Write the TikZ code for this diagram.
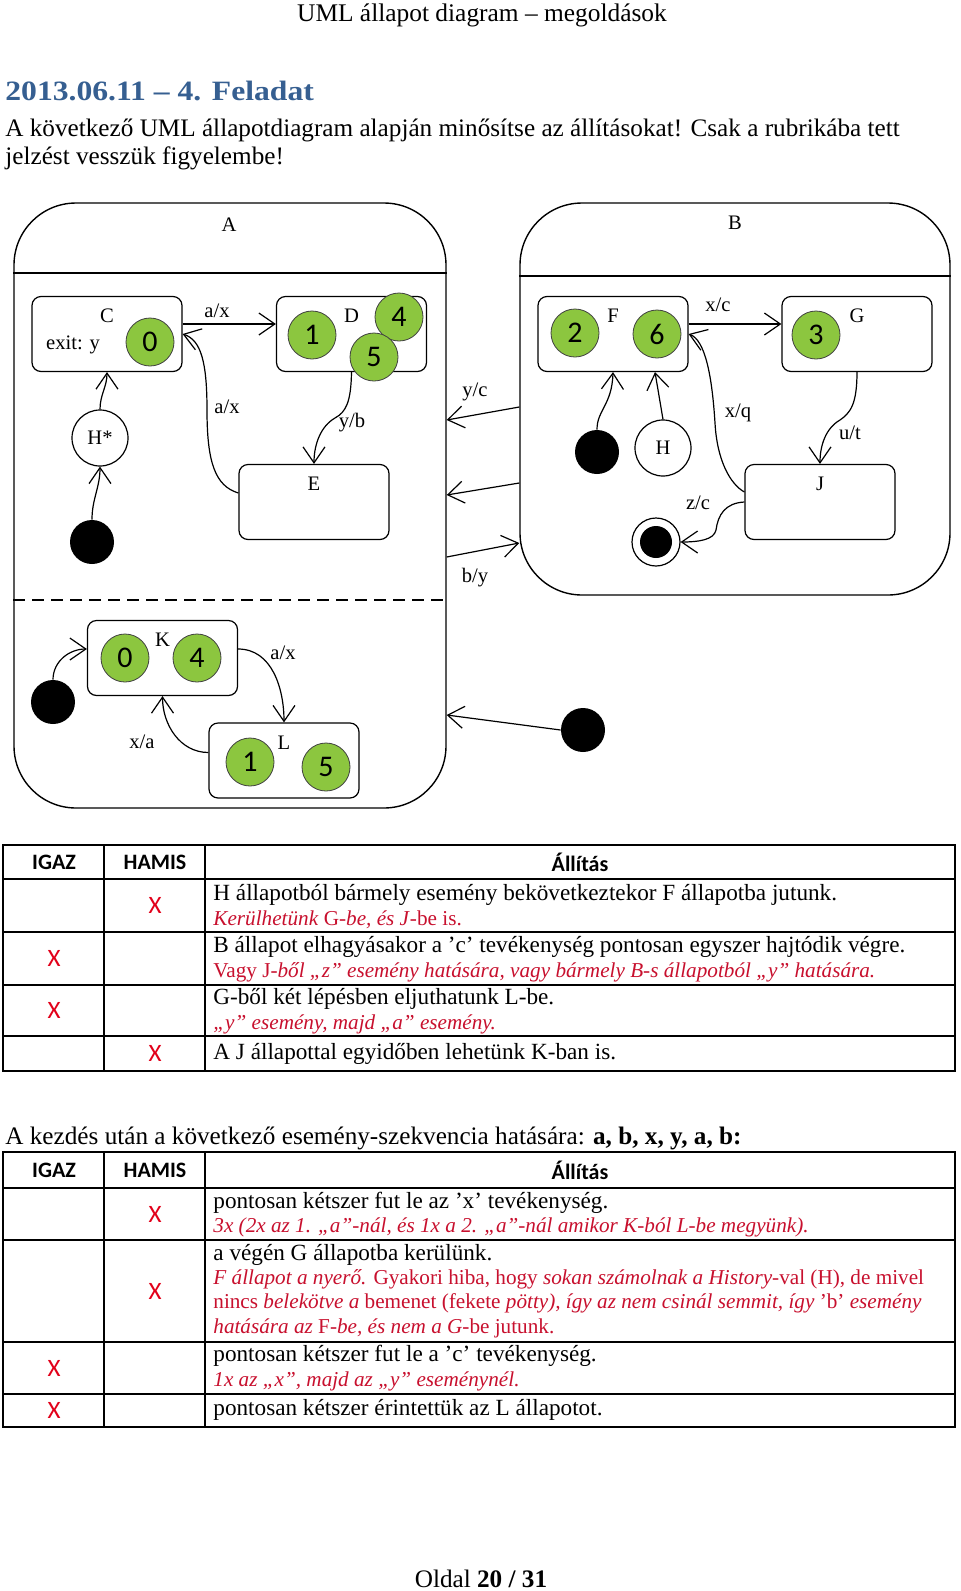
\documentclass[tikz,border=0pt]{standalone}
\usepackage{fontspec}
\usepackage{graphicx}
\setmainfont{Liberation Serif}
\newfontfamily\calibri{Carlito}
\usetikzlibrary{positioning,arrows.meta}
\definecolor{tokengreen}{HTML}{8CC63F}
\definecolor{headblue}{HTML}{365F91}
\definecolor{notered}{HTML}{C8102E}
\definecolor{markred}{HTML}{E2001A}
\newcommand{\diagfont}{\fontsize{10.3}{12}\selectfont}
\newcommand{\bodyfont}{\fontsize{12.6}{15}\selectfont}
\newcommand{\cellfont}{\fontsize{11.6}{14}\selectfont}
\newcommand{\notefont}{\fontsize{10.6}{13}\selectfont}

\tikzset{
  state/.style={draw, rounded corners=4.5pt, minimum width=75pt, minimum height=37.5pt, line width=0.6pt},
  composite/.style={draw, rounded corners=31pt, line width=0.7pt},
  token/.style={circle, draw=black!75, line width=0.4pt, fill=tokengreen, minimum size=24pt, inner sep=0pt, font=\calibri\fontsize{15}{15}\selectfont},
  startdot/.style={circle, fill=black, minimum size=22pt, inner sep=0pt},
  finalstate/.style={circle, draw, line width=0.6pt, minimum size=24pt, inner sep=0pt,
    path picture={\fill (path picture bounding box.center) circle (8pt);}},
  histnode/.style={circle, draw, line width=0.6pt, minimum size=28pt, inner sep=0pt, font=\diagfont},
  trans/.style={-{Straight Barb[length=8pt,width=11pt,line width=0.6pt]}, line width=0.6pt},
  lbl/.style={font=\diagfont, inner sep=1pt},
  body/.style={anchor=base west, inner sep=0pt, font=\bodyfont},
  cell/.style={anchor=base west, inner sep=0pt, font=\cellfont},
  note/.style={anchor=base west, inner sep=0pt, font=\notefont, text=notered},
  xmark/.style={font=\calibri\fontsize{12.5}{12.5}\selectfont, text=markred, inner sep=0pt},
  colhead/.style={font=\calibri\bfseries\fontsize{11}{11}\selectfont, inner sep=0pt},
  rule/.style={line width=0.8pt},
}

\begin{document}
\begin{tikzpicture}[x=0.5pt, y=-0.5pt]
  \useasboundingbox (0,0) rectangle (960,1591);
  \fill[white] (0,0) rectangle (960,1591);

  % page head and task text
  \node[anchor=base, inner sep=0pt, font=\fontsize{12.7}{15}\selectfont] (pagehead) at (482,21) {UML állapot diagram – megoldások};
  \node[anchor=base west, inner sep=0pt, text=headblue, font=\bfseries\fontsize{14}{17}\selectfont] (task) at (5,100) {\scalebox{1.13}[1]{2013.06.11 – 4. Feladat}};
  \node[body] (intro1) at (5,136) {A következő UML állapotdiagram alapján minősítse az állításokat! Csak a rubrikába tett};
  \node[body] (intro2) at (5,164) {jelzést vesszük figyelembe!};

  % composite states
  \node[composite, minimum width=216pt, minimum height=302.5pt] (A) at (230,505.5) {};
  \node[composite, minimum width=215pt, minimum height=196pt] (B) at (735,399) {};
  \draw[line width=0.6pt] (A.west |- 0,273) -- (A.east |- 0,273);
  \draw[line width=0.6pt] (B.west |- 0,276) -- (B.east |- 0,276);
  \draw[line width=0.6pt, dash pattern=on 6pt off 3.5pt] (A.west |- 0,600) -- (A.east |- 0,600);
  \node[lbl] (Aname) at (229,225) {A};
  \node[lbl] (Bname) at (735,223) {B};

  % inside A, upper region
  \node[state] (C) at (107,334) {};
  \node[lbl, below=5.5pt of C.north] (Cname) {C};
  \node[lbl] (Cexit) at (73,345) {exit: y};
  \node[state] (D) at (351.5,334) {};
  \node[lbl, below=5.5pt of D.north] (Dname) {D};
  \node[state] (E) at (314,502) {};
  \node[lbl, below=5.5pt of E.north] (Ename) {E};
  \node[histnode] (Hstar) at (100,438) {H*};
  \node[startdot] (dotA) at (92,542) {};

  \draw[trans] (dotA.north) to[out=90,in=-90] (Hstar.south);
  \draw[trans] (Hstar.north) to[out=90,in=-90] (C.south);
  \draw[trans] ([yshift=5pt]C.east) -- ([yshift=5pt]D.west);
  \node[lbl] (lCD) at (217,311) {a/x};
  \draw[trans] ([yshift=4.5pt]E.west) .. controls (215,486) and (207,462) .. (207,410)
    .. controls (207,362) and (201,340) .. (C.east);
  \node[lbl] (lEC) at (227,407) {a/x};
  \draw[trans] (D.south) .. controls (351,402) and (346,412) .. (335,418)
    .. controls (321,426) and (314,444) .. (E.north);
  \node[lbl] (lDE) at (352,423) {y/b};

  \node[token] (c0) at (150,342) {0};
  \node[token] (d1) at (312,335) {1};
  \node[token] (d4) at (399,317) {4};
  \node[token] (d5) at (374,357) {5};

  % inside B
  \node[state] (F) at (613,334) {};
  \node[lbl, below=5.5pt of F.north] (Fname) {F};
  \node[state] (G) at (857,334) {};
  \node[lbl, below=5.5pt of G.north] (Gname) {G};
  \node[state] (J) at (820,502) {};
  \node[lbl, below=5.5pt of J.north] (Jname) {J};
  \node[startdot] (dotB) at (597,452) {};
  \node[histnode] (Hist) at (663,448) {H};
  \node[finalstate] (fin) at (656,542) {};

  \draw[trans] ([yshift=5pt]F.east) -- ([yshift=5pt]G.west);
  \node[lbl] (lFG) at (718,305) {x/c};
  \draw[trans] ([yshift=5pt]J.west) .. controls (730,484) and (717,460) .. (715,423)
    .. controls (712,375) and (705,340) .. (F.east);
  \node[lbl] (lJF) at (738,413) {x/q};
  \draw[trans] (G.south) .. controls (857,405) and (850,413) .. (840,420)
    .. controls (826,428) and (820,445) .. (J.north);
  \node[lbl] (lGJ) at (850,433) {u/t};
  \draw[trans] (J.west) .. controls (725,503) and (718,515) .. (716,530)
    .. controls (714,540) and (698,542) .. (fin.east);
  \node[lbl] (lJfin) at (698,503) {z/c};
  \draw[trans] (dotB.north) .. controls (597,410) and (612,405) .. (F.south);
  \draw[trans] (Hist.north) -- ([xshift=21pt]F.south);

  \node[token] (f2) at (575,333) {2};
  \node[token] (f6) at (657,334) {6};
  \node[token] (g3) at (816,335) {3};

  % between A and B
  \draw[trans] (B.west |- 0,407) -- (A.east |- 0,420);
  \node[lbl] (lyc) at (475,392) {y/c};
  \draw[trans] (B.west |- 0,483) -- (A.east |- 0,495);
  \draw[trans] (A.east |- 0,557) -- (B.west |- 0,543);
  \node[lbl] (lby) at (475,578) {b/y};

  % inside A, lower region
  \node[state] (K) at (162.5,658) {};
  \node[lbl, below=5.5pt of K.north] (Kname) {K};
  \node[state] (L) at (284,760.5) {};
  \node[lbl, below=5.5pt of L.north] (Lname) {L};
  \node[startdot] (dotK) at (53,702) {};
  \node[startdot] (dotOut) at (583,730) {};

  \draw[trans] (dotK.north) to[out=90,in=180] ([yshift=4.5pt]K.west);
  \draw[trans] ([yshift=4.5pt]K.east) to[out=0,in=90] (L.north);
  \node[lbl] (lKL) at (283,653) {a/x};
  \draw[trans] ([yshift=4pt]L.west) to[out=180,in=-90] (K.south);
  \node[lbl] (lLK) at (142,742) {x/a};
  \draw[trans] (dotOut.west) -- (A.east |- 0,715);

  \node[token] (k0) at (125,658) {0};
  \node[token] (k4) at (197,658) {4};
  \node[token] (l1) at (250,762) {1};
  \node[token] (l5) at (326,767) {5};

  % first table
  \draw[rule] (3,845) rectangle (955,1071);
  \foreach \y in {879,932,985,1036} \draw[rule] (3,\y) -- (955,\y);
  \foreach \x in {104,205} \draw[rule] (\x,845) -- (\x,1071);
  \node[colhead] (t1igaz) at (54,862) {IGAZ};
  \node[colhead] (t1hamis) at (155,862) {HAMIS};
  \node[colhead] (t1allit) at (580,862) {Állítás};

  \node[cell] (t1s1) at (213,900) {H állapotból bármely esemény bekövetkeztekor F állapotba jutunk.};
  \node[note] (t1n1) at (213,925) {\textit{Kerülhetünk} G-\textit{be, és J}-be is.};
  \node[cell] (t1s2) at (213,952) {B állapot elhagyásakor a ’c’ tevékenység pontosan egyszer hajtódik végre.};
  \node[note] (t1n2) at (213,977) {Vagy J\textit{-ből „z” esemény hatására, vagy bármely B-s állapotból „y” hatására.}};
  \node[cell] (t1s3) at (213,1004) {G-ből két lépésben eljuthatunk L-be.};
  \node[note] (t1n3) at (213,1029) {\textit{„y” esemény, majd „a” esemény.}};
  \node[cell] (t1s4) at (213,1059) {A J állapottal egyidőben lehetünk K-ban is.};

  \node[xmark] (t1x1) at (155,905.5) {X};
  \node[xmark] (t1x2) at (54,958.5) {X};
  \node[xmark] (t1x3) at (54,1010.5) {X};
  \node[xmark] (t1x4) at (155,1053.5) {X};

  % second table
  \node[body] (seq) at (5,1144) {A kezdés után a következő esemény-szekvencia hatására: \textbf{a, b, x, y, a, b:}};
  \draw[rule] (3,1152) rectangle (955,1427);
  \foreach \y in {1188,1240,1342,1394} \draw[rule] (3,\y) -- (955,\y);
  \foreach \x in {104,205} \draw[rule] (\x,1152) -- (\x,1427);
  \node[colhead] (t2igaz) at (54,1170) {IGAZ};
  \node[colhead] (t2hamis) at (155,1170) {HAMIS};
  \node[colhead] (t2allit) at (580,1170) {Állítás};

  \node[cell] (t2s1) at (213,1208) {pontosan kétszer fut le az ’x’ tevékenység.};
  \node[note] (t2n1) at (213,1232) {\textit{3x (2x az 1. „a”-nál, és 1x a 2. „a”-nál amikor K-ból L-be megyünk).}};
  \node[cell] (t2s2) at (213,1260) {a végén G állapotba kerülünk.};
  \node[note] (t2n2) at (213,1284) {\textit{F állapot a nyerő.} Gyakori hiba, hogy \textit{sokan számolnak a History}-val (H), de mivel};
  \node[note] (t2n3) at (213,1308) {nincs \textit{belekötve a} bemenet (fekete \textit{pötty), így az nem csinál semmit, így} ’b’ \textit{esemény}};
  \node[note] (t2n4) at (213,1333) {\textit{hatására az} F-\textit{be, és nem a G}-be jutunk.};
  \node[cell] (t2s3) at (213,1361) {pontosan kétszer fut le a ’c’ tevékenység.};
  \node[note] (t2n5) at (213,1386) {\textit{1x az „x”, majd az „y” eseménynél.}};
  \node[cell] (t2s4) at (213,1415) {pontosan kétszer érintettük az L állapotot.};

  \node[xmark] (t2x1) at (155,1214) {X};
  \node[xmark] (t2x2) at (155,1291) {X};
  \node[xmark] (t2x3) at (54,1368) {X};
  \node[xmark] (t2x4) at (54,1410.5) {X};

  % page number
  \node[anchor=base, inner sep=0pt, font=\bodyfont] (pagenum) at (481,1587) {Oldal \textbf{20 / 31}};
\end{tikzpicture}
\end{document}
